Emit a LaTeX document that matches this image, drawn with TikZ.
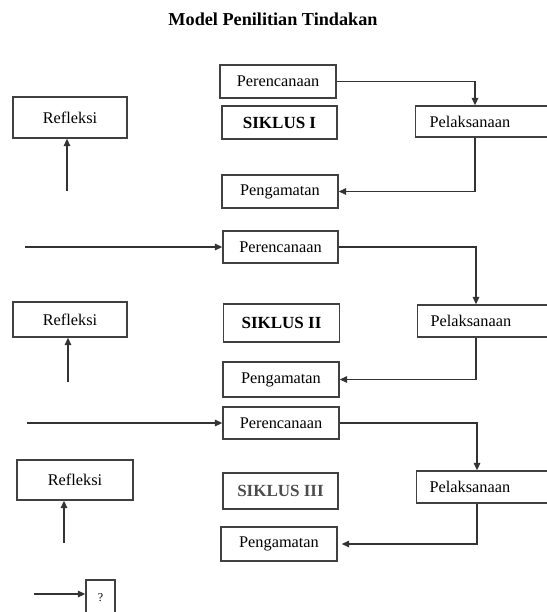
\documentclass[tikz,border=0pt]{standalone}
\usepackage{fontspec}
\setmainfont{Liberation Serif}
\usetikzlibrary{arrows.meta}
\begin{document}
\begin{tikzpicture}[x=1pt,y=-1pt,
  box/.style={draw=black!75,line width=1.3pt,inner sep=0pt,minimum width=116pt,minimum height=33pt,font=\fontsize{16.3}{19}\selectfont},
  boldbox/.style={box,font=\fontsize{17}{19}\selectfont\bfseries},
  conn/.style={draw=black!80,line width=1.3pt,-{Triangle[length=7.5pt,width=6.5pt]}}]
\useasboundingbox (0,0) rectangle (546,612);
\node[font=\fontsize{18.2}{21}\selectfont\bfseries] (title) at (273,19) {Model Penilitian Tindakan};
% Siklus I
\node[box] (P1) at (278,81.5) {Perencanaan};
\node[boldbox,minimum width=115pt] (S1) at (279.5,122.5) {SIKLUS I};
\node[box,anchor=west,minimum width=0pt,text width=120pt,align=left,inner xsep=14pt,minimum height=31pt] (L1) at (415,121.5) {Pelaksanaan};
\node[box,minimum width=114pt,minimum height=41pt] (R1) at (70,117.5) {Refleksi};
\node[box] (G1) at (280,191.5) {Pengamatan};
\coordinate (k1) at (475,0);
\coordinate (a1) at (67,191);
\draw[conn] (P1.east) -| (k1 |- L1.north);
\draw[conn] (k1 |- L1.south) |- (G1.east);
\draw[conn] (a1) -- (a1 |- R1.south);
% Siklus II
\coordinate (i2) at (25,247);
\node[box,minimum width=115pt,minimum height=32pt] (P2) at (280.5,247) {Perencanaan};
\node[boldbox,minimum height=38pt] (S2) at (281.5,323) {SIKLUS II};
\node[box,anchor=west,minimum width=0pt,text width=120pt,align=left,inner xsep=13pt,minimum height=32pt] (L2) at (417,321) {Pelaksanaan};
\node[box,minimum width=114pt,minimum height=35pt] (R2) at (70,319.5) {Refleksi};
\node[box,minimum height=35pt] (G2) at (281,379.5) {Pengamatan};
\coordinate (k2) at (476,0);
\coordinate (a2) at (68,382);
\draw[conn] (i2) -- (P2.west);
\draw[conn] (P2.east) -| (k2 |- L2.north);
\draw[conn] (k2 |- L2.south) |- (G2.east);
\draw[conn] (a2) -- (a2 |- R2.south);
% Siklus III
\coordinate (i3) at (27,423);
\node[box,minimum height=32pt] (P3) at (281,423) {Perencanaan};
\node[boldbox,minimum width=115pt,minimum height=36pt,text=black!70] (S3) at (280.5,491) {SIKLUS III};
\node[box,anchor=west,minimum width=0pt,text width=120pt,align=left,inner xsep=13pt,minimum height=32pt] (L3) at (416,487) {Pelaksanaan};
\node[box,minimum width=116pt,minimum height=40pt] (R3) at (75,480) {Refleksi};
\node[box,minimum height=34pt] (G3) at (279,544) {Pengamatan};
\coordinate (k3) at (477,0);
\coordinate (a3) at (64,543);
\draw[conn] (i3) -- (P3.west);
\draw[conn] (P3.east) -| (k3 |- L3.north);
\draw[conn,shorten >=4pt] (k3 |- L3.south) |- (G3.east);
\draw[conn] (a3) -- (a3 |- R3.south);
% bottom
\coordinate (i4) at (34,594);
\node[box,minimum width=29pt,minimum height=36pt,font=\fontsize{12}{14}\selectfont] (Q) at (100.5,598) {?};
\draw[conn] (i4) -- (Q.west |- i4);
\end{tikzpicture}
\end{document}
